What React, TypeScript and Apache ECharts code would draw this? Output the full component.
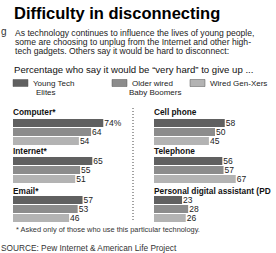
import React, { useEffect, useRef } from "react";
import * as echarts from "echarts";

const titleText = "Difficulty in disconnecting";
const introLines = [
  "As technology continues to influence the lives of young people,",
  "some are choosing to unplug from the Internet and other high-",
  "tech gadgets. Others say it would be hard to disconnect:",
];
const questionText = "Percentage who say it would be \u201cvery hard\u201d to give up ...";
const generations = ["Young Tech Elites", "Older wired Baby Boomers", "Wired Gen-Xers"];
const legendLines = [
  ["Young Tech", "Elites"],
  ["Older wired", "Baby Boomers"],
  ["Wired Gen-Xers", ""],
];
const panelNames = [
  "Computer*",
  "Internet*",
  "Email*",
  "Cell phone",
  "Telephone",
  "Personal digital assistant (PDA)*",
];
const computer = [74, 64, 54];
const internet = [65, 55, 51];
const email = [57, 53, 46];
const cellPhone = [58, 50, 45];
const telephone = [56, 57, 67];
const pda = [23, 28, 26];
const footnote = "* Asked only of those who use this particular technology.";
const source = "SOURCE: Pew Internet & American Life Project";

const panelValues = [computer, internet, email, cellPhone, telephone, pda];
const colors = ["#606060", "#8c8c8c", "#b3b3b3"];
const FONT = "Liberation Sans, Arial, sans-serif";

export default function App() {
  const ref = useRef<HTMLDivElement>(null);
  useEffect(() => {
    if (!ref.current) return;
    const chart = echarts.init(ref.current, null, { renderer: "svg" });
    const tops = [118.5, 156.5, 195.5];
    const labelY = [112, 150.5, 190.5];
    const colX = [13, 154];

    const graphic: any[] = [];
    graphic.push({
      type: "text", x: 14, y: 13,
      style: { text: titleText, font: "bold 16.5px 'Liberation Sans Narrow', 'Liberation Sans', Arial, sans-serif", fill: "#000", textVerticalAlign: "middle" },
    });
    graphic.push({
      type: "text", x: 1, y: 31,
      style: { text: "g", fontSize: 10, fontFamily: FONT, fill: "#333", textVerticalAlign: "middle" },
    });
    introLines.forEach((t, i) => {
      graphic.push({
        type: "text", x: 15, y: 33 + i * 9,
        style: { text: t, fontSize: 8.6, fontFamily: FONT, fill: "#222", textVerticalAlign: "middle" },
      });
    });
    graphic.push({
      type: "text", x: 14, y: 69,
      style: { text: questionText, fontSize: 9.6, fontFamily: FONT, fill: "#111", textVerticalAlign: "middle" },
    });
    const swX = [13, 112, 190];
    legendLines.forEach((lines, i) => {
      graphic.push({
        type: "rect", shape: { x: swX[i], y: 79.5, width: 15, height: 7 },
        style: { fill: colors[i], stroke: "#555", lineWidth: 0.5 },
      });
      graphic.push({
        type: "text", x: swX[i] + 20, y: 83,
        style: { text: lines[0], fontSize: 8, fontFamily: FONT, fill: "#222", textVerticalAlign: "middle" },
      });
      if (lines[1]) {
        graphic.push({
          type: "text", x: swX[i] + (i === 0 ? 23 : 17), y: 92,
          style: { text: lines[1], fontSize: 8, fontFamily: FONT, fill: "#222", textVerticalAlign: "middle" },
        });
      }
    });
    panelNames.forEach((n, i) => {
      const x = colX[i < 3 ? 0 : 1];
      graphic.push({
        type: "text", x, y: labelY[i % 3],
        style: {
          text: n, fontSize: 8.3, fontWeight: "bold", fontFamily: FONT, fill: "#111",
          textVerticalAlign: "middle", width: 275 - x, overflow: "truncate", ellipsis: "",
        },
      });
    });
    graphic.push({
      type: "line", shape: { x1: 133, y1: 108, x2: 133, y2: 222 },
      style: { stroke: "#444", lineWidth: 1, lineDash: [1, 2] },
    });
    graphic.push({
      type: "text", x: 16, y: 229,
      style: { text: footnote, fontSize: 7.4, fontFamily: FONT, fill: "#333", textVerticalAlign: "middle" },
    });
    graphic.push({
      type: "text", x: 1, y: 248,
      style: { text: source, fontSize: 8.3, fontFamily: FONT, fill: "#333", textVerticalAlign: "middle" },
    });

    const option: any = {
      animation: false,
      grid: panelNames.map((_, i) => ({
        left: colX[i < 3 ? 0 : 1], top: tops[i % 3], width: 122, height: 27,
      })),
      xAxis: panelNames.map((_, i) => ({ type: "value", gridIndex: i, min: 0, max: 100, show: false })),
      yAxis: panelNames.map((_, i) => ({
        type: "category", gridIndex: i, data: generations, inverse: true, show: false,
      })),
      series: panelValues.map((vals, i) => ({
        type: "bar",
        xAxisIndex: i,
        yAxisIndex: i,
        barWidth: 8,
        data: vals.map((v, j) => ({ value: v, itemStyle: { color: colors[j] } })),
        label: {
          show: true,
          position: "right",
          distance: 1,
          fontSize: 8.5,
          fontFamily: FONT,
          color: "#222",
          formatter: (p: any) => (i === 0 && p.dataIndex === 0 ? p.value + "%" : String(p.value)),
        },
      })),
      graphic,
    };
    chart.setOption(option);
    return () => chart.dispose();
  }, []);
  return (
    <div
      ref={ref}
      style={{ position: "fixed", left: 0, top: 0, width: 276, height: 253, background: "#fff" }}
    />
  );
}
